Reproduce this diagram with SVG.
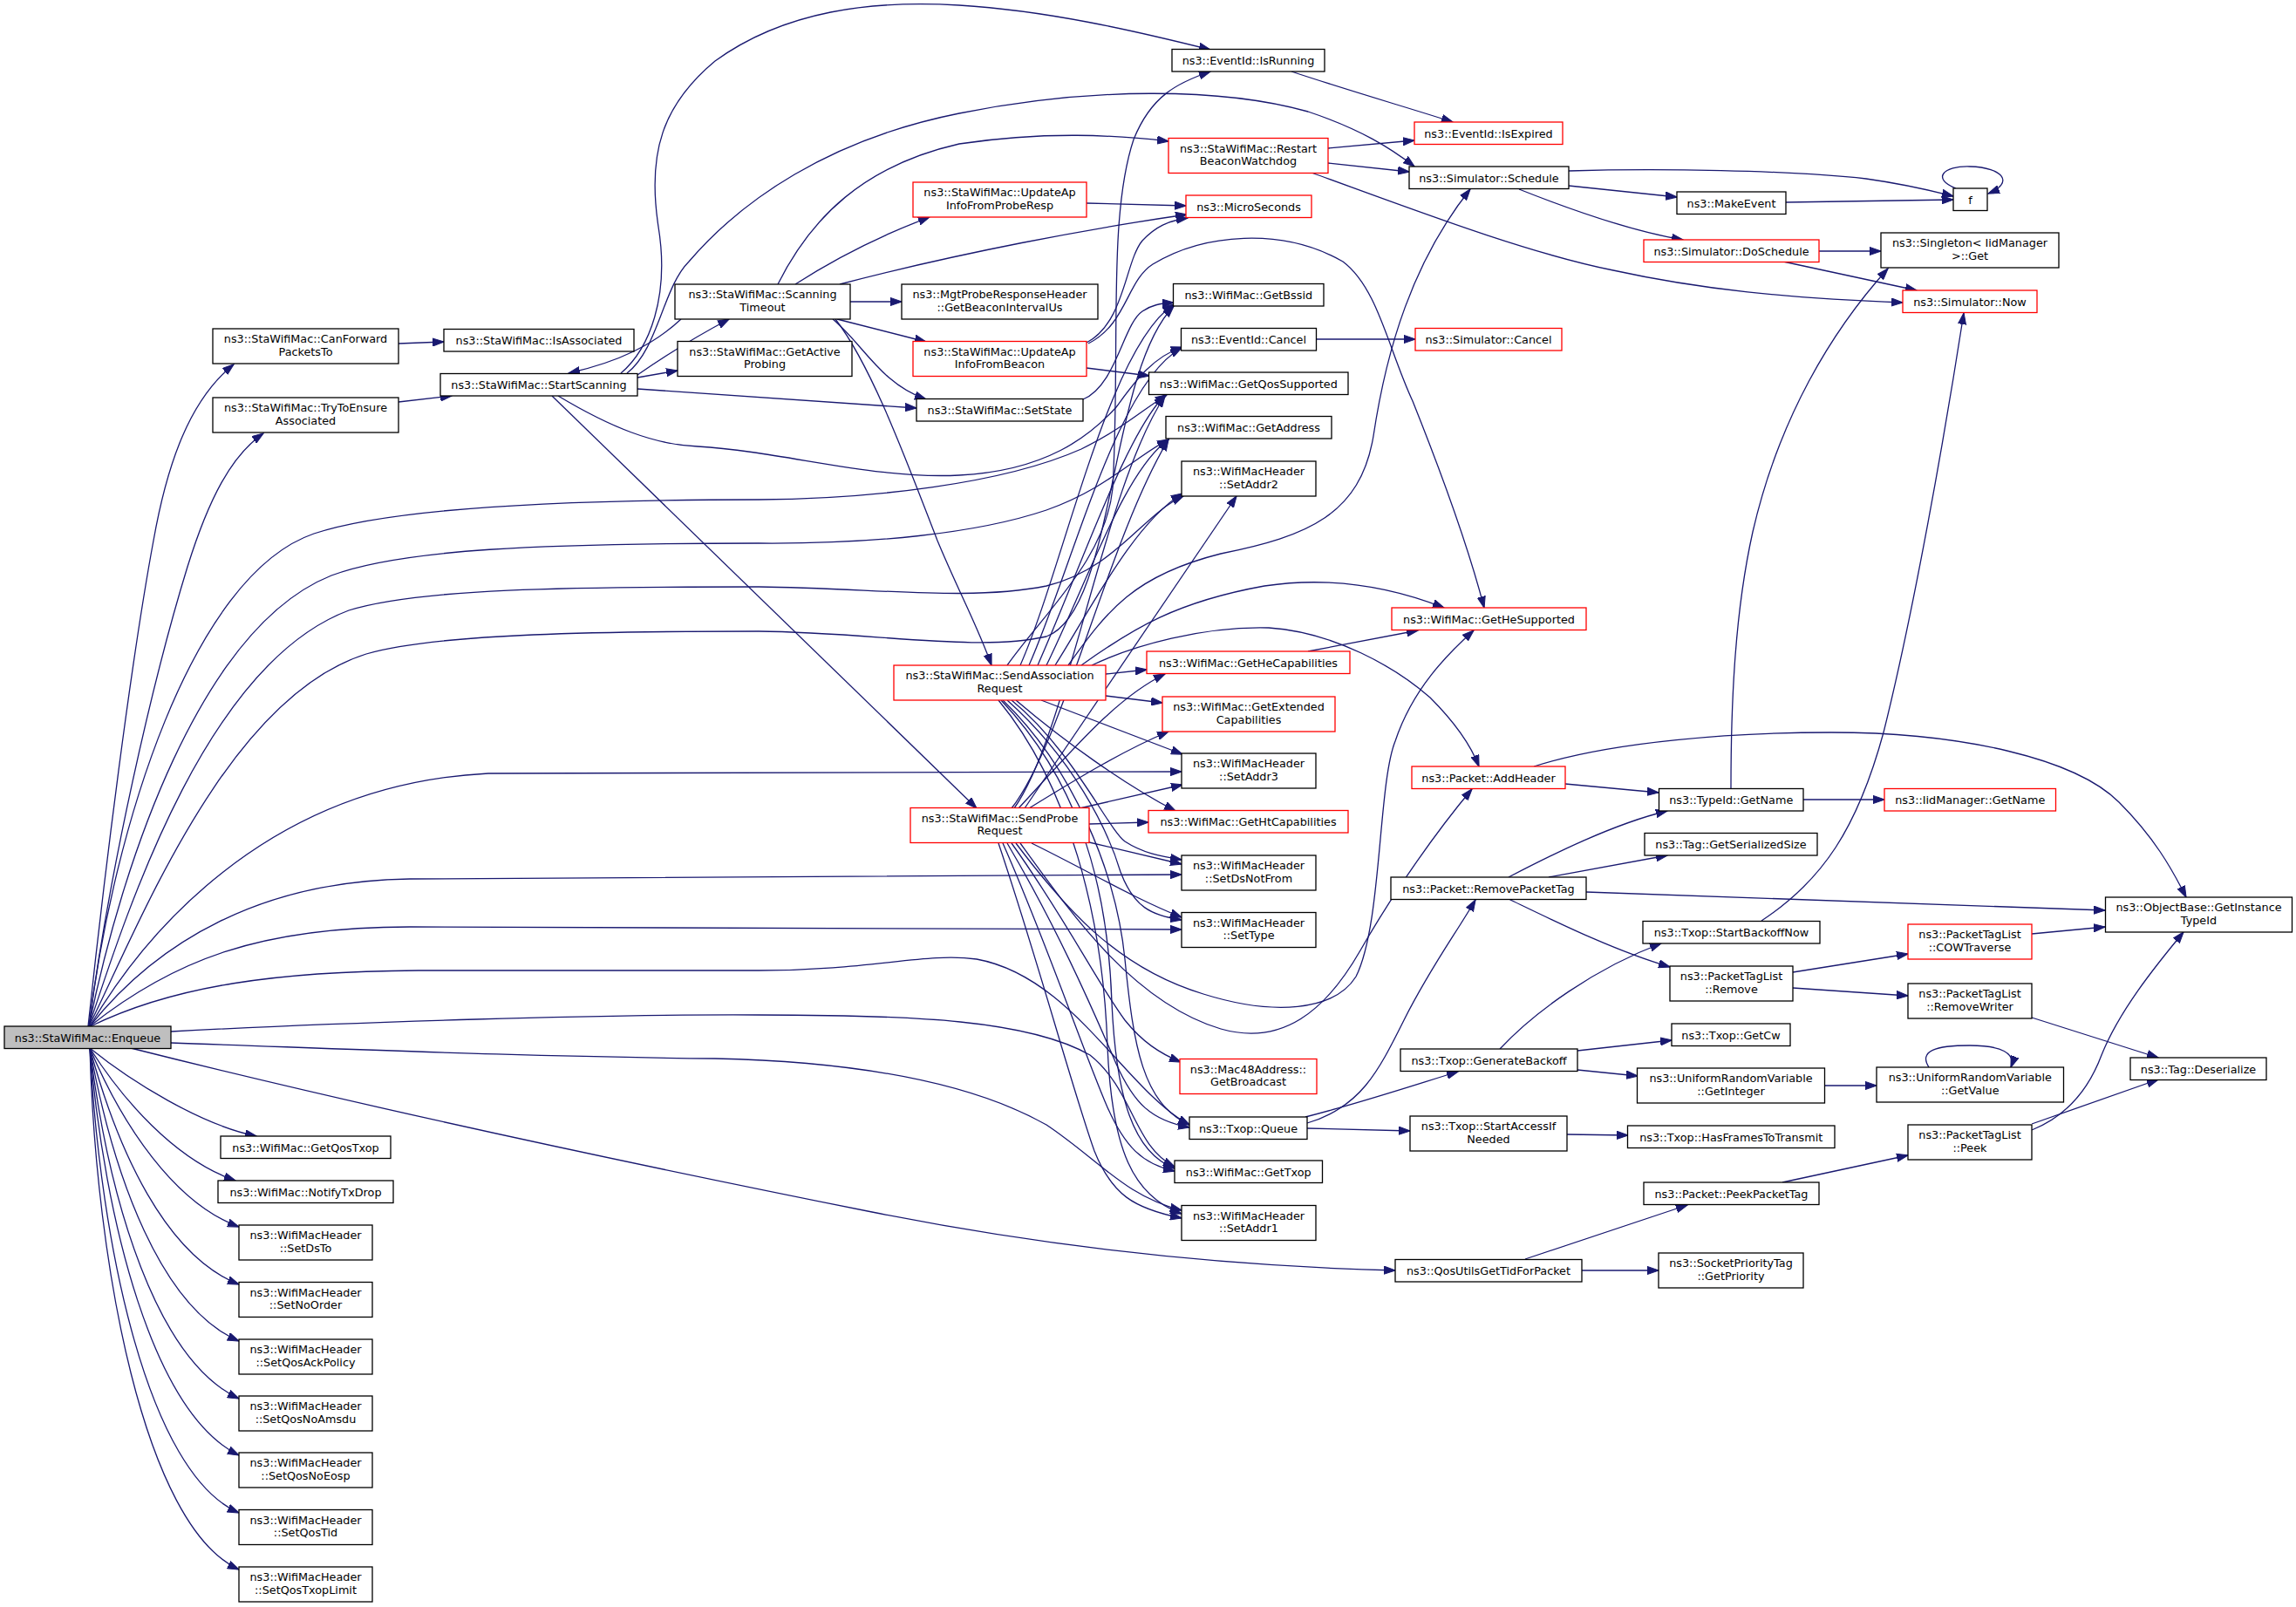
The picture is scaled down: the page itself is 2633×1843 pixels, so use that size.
<svg xmlns="http://www.w3.org/2000/svg" width="2633" height="1843" viewBox="0 0 2633 1843">
<style>
.e{fill:none;stroke:#191970;stroke-width:1.3;marker-end:url(#ah)}
.n rect{fill:#ffffff;stroke:#000000;stroke-width:1.3}
.n.r rect{stroke:#ff0000}
.n.g rect{fill:#bfbfbf}
.n text{font-family:"DejaVu Sans","Liberation Sans",sans-serif;font-size:12.8px;text-anchor:middle;fill:#000000}
</style>
<defs>
<marker id="ah" markerUnits="userSpaceOnUse" markerWidth="14" markerHeight="10" viewBox="0 0 14 10" refX="13" refY="5" orient="auto">
<path d="M0,0.4 L13.3,5 L0,9.6 z" fill="#191970" stroke="#191970" stroke-width="1"/>
</marker>
</defs>
<rect x="0" y="0" width="2633" height="1843" fill="#ffffff"/>
<g id="edges">
<path class="e" d="M101,1177 C120,1000 150,760 176,620 C192,530 218,458 268,418"/>
<path class="e" d="M102,1177 C125,1000 175,780 215,650 C240,570 266,522 302,497"/>
<path class="e" d="M103,1202 C150,1240 230,1290 294,1303"/>
<path class="e" d="M103,1202 C140,1260 200,1330 270,1354"/>
<path class="e" d="M103,1202 C140,1290 200,1380 274,1407"/>
<path class="e" d="M103,1202 C135,1320 190,1440 274,1473"/>
<path class="e" d="M103,1202 C130,1350 185,1500 274,1538"/>
<path class="e" d="M103,1202 C125,1380 180,1560 274,1604"/>
<path class="e" d="M103,1202 C120,1400 175,1620 274,1669"/>
<path class="e" d="M103,1202 C115,1430 170,1690 274,1735"/>
<path class="e" d="M103,1202 C110,1450 165,1750 274,1800"/>
<path class="e" d="M102,1177 C130,950 220,660 360,612 C450,582 650,573 870,573 C1000,572 1150,555 1240,515 C1290,490 1310,470 1338,453"/>
<path class="e" d="M102,1177 C140,990 230,720 380,660 C460,630 620,623 870,623 C1000,624 1120,612 1200,585 C1270,560 1300,525 1340,504"/>
<path class="e" d="M102,1177 C150,1030 240,760 400,700 C480,675 650,673 870,673 C1000,674 1110,690 1200,672 C1280,652 1310,590 1357,569"/>
<path class="e" d="M102,1177 C160,1060 260,800 420,750 C500,726 700,724 870,724 C1000,725 1120,748 1200,730 C1280,700 1270,430 1346,351"/>
<path class="e" d="M103,1177 C160,1080 300,900 560,887 L1355,885"/>
<path class="e" d="M103,1177 C180,1080 300,1010 470,1008 L1355,1003"/>
<path class="e" d="M103,1177 C200,1100 300,1063 470,1063 L1355,1066"/>
<path class="e" d="M104,1177 C200,1130 320,1114 480,1113 L870,1113 C1000,1113 1060,1092 1120,1100 C1230,1120 1290,1250 1364,1290"/>
<path class="e" d="M196,1183 C400,1172 700,1163 870,1164 C1050,1164 1180,1170 1250,1210 C1300,1250 1300,1315 1347,1338"/>
<path class="e" d="M196,1196 C400,1203 600,1212 820,1214 C1000,1218 1120,1245 1200,1290 C1260,1330 1290,1372 1355,1388"/>
<path class="e" d="M150,1202 C400,1265 700,1330 1000,1390 C1200,1430 1400,1452 1600,1457"/>
<path class="e" d="M457,461 L518,454"/>
<path class="e" d="M457,394 L509,392"/>
<path class="e" d="M712,428 C745,400 768,340 755,260 C742,175 760,120 820,70 C900,12 1000,0 1100,6 C1200,12 1300,35 1388,57"/>
<path class="e" d="M719,428 C755,400 760,330 790,300 C850,230 950,160 1100,130 C1250,100 1400,100 1500,128 C1560,148 1595,170 1622,191"/>
<path class="e" d="M731,430 C760,410 800,385 836,366"/>
<path class="e" d="M731,433 L777,425"/>
<path class="e" d="M731,446 L1051,468"/>
<path class="e" d="M640,454 C700,490 750,510 800,512 C900,518 1000,550 1100,545 C1200,540 1250,500 1280,467 C1300,440 1320,410 1356,398"/>
<path class="e" d="M633,454 L1120,927"/>
<path class="e" d="M781,366 C750,395 710,415 652,428"/>
<path class="e" d="M892,326 C930,250 990,190 1100,165 C1200,150 1280,155 1340,162"/>
<path class="e" d="M912,326 C960,295 1010,270 1066,249"/>
<path class="e" d="M963,326 C1100,290 1250,262 1361,246"/>
<path class="e" d="M975,346 L1034,346"/>
<path class="e" d="M960,366 L1062,392"/>
<path class="e" d="M955,366 C990,395 1010,440 1062,458"/>
<path class="e" d="M958,366 C1000,420 1040,530 1075,620 C1100,680 1122,720 1137,763"/>
<path class="e" d="M1246,233 L1360,236"/>
<path class="e" d="M1246,393 C1290,370 1290,300 1310,276 C1325,260 1340,253 1362,250"/>
<path class="e" d="M1246,422 L1318,431"/>
<path class="e" d="M1248,394 C1292,372 1292,322 1322,303 C1380,268 1470,260 1540,300 C1580,330 1592,400 1620,460 C1652,540 1682,620 1702,697"/>
<path class="e" d="M1242,458 C1280,442 1288,372 1310,357 C1320,350 1330,348 1346,347"/>
<path class="e" d="M1523,170 L1622,161"/>
<path class="e" d="M1523,187 L1616,197"/>
<path class="e" d="M1504,198 C1620,240 1750,290 1850,310 C1950,332 2050,342 2182,347"/>
<path class="e" d="M1481,82 C1550,105 1620,125 1666,140"/>
<path class="e" d="M1155,763 C1200,700 1268,640 1276,560 C1285,400 1270,250 1300,160 C1320,110 1350,95 1388,82"/>
<path class="e" d="M1225,763 C1270,700 1300,660 1400,635 C1500,615 1560,590 1575,500 C1590,400 1620,300 1686,217"/>
<path class="e" d="M1170,763 C1220,650 1270,400 1346,349"/>
<path class="e" d="M1180,763 C1230,650 1280,440 1355,399"/>
<path class="e" d="M1190,763 C1240,650 1290,500 1336,453"/>
<path class="e" d="M1200,763 C1250,660 1290,540 1340,504"/>
<path class="e" d="M1210,763 C1250,700 1300,600 1356,566"/>
<path class="e" d="M1240,763 C1300,720 1350,690 1450,672 C1530,660 1600,675 1656,697"/>
<path class="e" d="M1252,763 C1300,740 1380,718 1455,720 C1530,725 1600,765 1640,800 C1665,825 1685,850 1696,879"/>
<path class="e" d="M1268,773 L1315,768"/>
<path class="e" d="M1268,798 L1333,806"/>
<path class="e" d="M1194,803 L1356,865"/>
<path class="e" d="M1165,803 C1220,850 1290,900 1348,930"/>
<path class="e" d="M1160,803 C1230,860 1270,950 1290,965 C1310,978 1330,982 1355,986"/>
<path class="e" d="M1155,803 C1230,870 1270,950 1285,1000 C1300,1040 1320,1050 1355,1055"/>
<path class="e" d="M1150,803 C1230,880 1280,1000 1290,1100 C1300,1200 1310,1265 1364,1290"/>
<path class="e" d="M1148,803 C1230,890 1270,1000 1275,1150 C1280,1260 1300,1322 1347,1340"/>
<path class="e" d="M1145,803 C1225,900 1265,1050 1270,1200 C1275,1320 1300,1372 1355,1392"/>
<path class="e" d="M1175,927 L1418,569"/>
<path class="e" d="M1160,927 C1220,850 1270,620 1340,504"/>
<path class="e" d="M1163,927 C1225,840 1265,560 1336,454"/>
<path class="e" d="M1168,927 C1230,860 1280,800 1336,773"/>
<path class="e" d="M1180,927 C1240,890 1290,860 1340,839"/>
<path class="e" d="M1238,927 L1356,900"/>
<path class="e" d="M1249,945 L1317,943"/>
<path class="e" d="M1249,966 L1355,991"/>
<path class="e" d="M1183,967 C1250,1000 1300,1030 1355,1052"/>
<path class="e" d="M1160,967 C1220,1050 1260,1130 1290,1170 C1310,1195 1330,1208 1354,1218"/>
<path class="e" d="M1155,967 C1210,1060 1250,1150 1280,1220 C1300,1265 1320,1285 1364,1293"/>
<path class="e" d="M1150,967 C1200,1080 1240,1200 1270,1270 C1290,1315 1310,1335 1347,1343"/>
<path class="e" d="M1145,967 C1190,1100 1230,1250 1255,1320 C1275,1370 1300,1386 1355,1397"/>
<path class="e" d="M1165,967 C1220,1040 1280,1110 1380,1140 C1460,1165 1530,1160 1555,1120 C1585,1060 1580,900 1600,850 C1620,790 1660,750 1690,723"/>
<path class="e" d="M1170,967 C1230,1050 1300,1150 1400,1180 C1470,1200 1520,1160 1560,1090 C1600,1020 1650,950 1688,905"/>
<path class="e" d="M1500,747 L1626,723"/>
<path class="e" d="M1510,389 L1623,389"/>
<path class="e" d="M1799,196 C1900,193 2050,195 2140,205 C2190,212 2220,220 2240,225"/>
<path class="e" d="M1799,213 L1923,226"/>
<path class="e" d="M1742,217 C1800,240 1870,265 1930,275"/>
<path class="e" d="M2048,232 L2240,229"/>
<path class="e" d="M2243,216 C2215,205 2228,190 2259,191 C2298,192 2310,210 2280,222"/>
<path class="e" d="M2086,288 L2157,288"/>
<path class="e" d="M2045,300 L2198,333"/>
<path class="e" d="M2020,1056 C2090,1010 2130,950 2160,840 C2195,700 2230,500 2252,359"/>
<path class="e" d="M1985,904 C1985,800 1990,700 2010,610 C2040,480 2100,380 2165,308"/>
<path class="e" d="M1795,899 L1902,909"/>
<path class="e" d="M1759,879 C1850,850 1990,840 2100,840 C2250,840 2380,870 2430,920 C2470,960 2490,995 2507,1029"/>
<path class="e" d="M2068,917 L2161,917"/>
<path class="e" d="M1730,1006 C1780,980 1850,945 1912,930"/>
<path class="e" d="M1776,1006 L1912,981"/>
<path class="e" d="M1819,1023 C2000,1030 2200,1038 2414,1044"/>
<path class="e" d="M1730,1031 C1780,1055 1850,1090 1915,1109"/>
<path class="e" d="M2056,1115 L2188,1094"/>
<path class="e" d="M2056,1133 L2188,1142"/>
<path class="e" d="M2330,1071 L2414,1063"/>
<path class="e" d="M2330,1167 L2475,1213"/>
<path class="e" d="M2330,1289 L2475,1238"/>
<path class="e" d="M2330,1296 C2370,1280 2395,1250 2410,1210 C2430,1160 2470,1110 2504,1069"/>
<path class="e" d="M1497,1281 C1560,1265 1620,1245 1672,1229"/>
<path class="e" d="M1499,1294 L1617,1297"/>
<path class="e" d="M1499,1288 C1560,1270 1580,1230 1610,1170 C1640,1110 1670,1070 1692,1032"/>
<path class="e" d="M1720,1203 C1760,1160 1830,1110 1905,1082"/>
<path class="e" d="M1809,1205 L1917,1193"/>
<path class="e" d="M1809,1227 L1878,1234"/>
<path class="e" d="M2092,1245 L2152,1245"/>
<path class="e" d="M2212,1224 C2200,1205 2220,1199 2259,1199 C2295,1199 2312,1208 2306,1224"/>
<path class="e" d="M1797,1301 L1867,1302"/>
<path class="e" d="M1749,1444 L1935,1382"/>
<path class="e" d="M1814,1457 L1902,1457"/>
<path class="e" d="M2044,1356 L2188,1325"/>
</g>
<g id="node-enqueue" class="n g"><rect x="5" y="1177" width="191" height="25.5"/><text x="100.5" y="1194.5">ns3::StaWifiMac::Enqueue</text></g>
<g id="node-canforward" class="n"><rect x="244" y="377" width="213" height="40"/><text x="350.5" y="393">ns3::StaWifiMac::CanForward</text><text x="350.5" y="407.5">PacketsTo</text></g>
<g id="node-trytoensure" class="n"><rect x="244" y="456" width="213" height="40"/><text x="350.5" y="472">ns3::StaWifiMac::TryToEnsure</text><text x="350.5" y="486.5">Associated</text></g>
<g id="node-getqostxop" class="n"><rect x="253" y="1303" width="195" height="25.5"/><text x="350.5" y="1320.5">ns3::WifiMac::GetQosTxop</text></g>
<g id="node-notifytxdrop" class="n"><rect x="250" y="1354" width="201" height="25.5"/><text x="350.5" y="1371.5">ns3::WifiMac::NotifyTxDrop</text></g>
<g id="node-setdsto" class="n"><rect x="274" y="1405" width="153" height="40"/><text x="350.5" y="1421">ns3::WifiMacHeader</text><text x="350.5" y="1435.5">::SetDsTo</text></g>
<g id="node-setnoorder" class="n"><rect x="274" y="1470.5" width="153" height="40"/><text x="350.5" y="1486.5">ns3::WifiMacHeader</text><text x="350.5" y="1501">::SetNoOrder</text></g>
<g id="node-setqosackpolicy" class="n"><rect x="274" y="1536" width="153" height="40"/><text x="350.5" y="1552">ns3::WifiMacHeader</text><text x="350.5" y="1566.5">::SetQosAckPolicy</text></g>
<g id="node-setqosnoamsdu" class="n"><rect x="274" y="1601" width="153" height="40"/><text x="350.5" y="1617">ns3::WifiMacHeader</text><text x="350.5" y="1631.5">::SetQosNoAmsdu</text></g>
<g id="node-setqosnoeosp" class="n"><rect x="274" y="1666" width="153" height="40"/><text x="350.5" y="1682">ns3::WifiMacHeader</text><text x="350.5" y="1696.5">::SetQosNoEosp</text></g>
<g id="node-setqostid" class="n"><rect x="274" y="1731.5" width="153" height="40"/><text x="350.5" y="1747.5">ns3::WifiMacHeader</text><text x="350.5" y="1762">::SetQosTid</text></g>
<g id="node-setqostxoplimit" class="n"><rect x="274" y="1797" width="153" height="40"/><text x="350.5" y="1813">ns3::WifiMacHeader</text><text x="350.5" y="1827.5">::SetQosTxopLimit</text></g>
<g id="node-isassociated" class="n"><rect x="509" y="377.5" width="218" height="25.5"/><text x="618" y="395">ns3::StaWifiMac::IsAssociated</text></g>
<g id="node-startscanning" class="n"><rect x="505" y="428.5" width="226" height="25.5"/><text x="618" y="446">ns3::StaWifiMac::StartScanning</text></g>
<g id="node-scanningtimeout" class="n"><rect x="774" y="326" width="201" height="40"/><text x="874.5" y="342">ns3::StaWifiMac::Scanning</text><text x="874.5" y="356.5">Timeout</text></g>
<g id="node-getactiveprobing" class="n"><rect x="777" y="391.5" width="200" height="40"/><text x="877" y="407.5">ns3::StaWifiMac::GetActive</text><text x="877" y="422">Probing</text></g>
<g id="node-sendassociationrequest" class="n r"><rect x="1025" y="763" width="243" height="40"/><text x="1146.5" y="779">ns3::StaWifiMac::SendAssociation</text><text x="1146.5" y="793.5">Request</text></g>
<g id="node-sendproberequest" class="n r"><rect x="1044" y="926.5" width="205" height="40"/><text x="1146.5" y="942.5">ns3::StaWifiMac::SendProbe</text><text x="1146.5" y="957">Request</text></g>
<g id="node-getbeaconintervalus" class="n"><rect x="1034" y="326" width="225" height="40"/><text x="1146.5" y="342">ns3::MgtProbeResponseHeader</text><text x="1146.5" y="356.5">::GetBeaconIntervalUs</text></g>
<g id="node-updateapinfofromproberesp" class="n r"><rect x="1047" y="209" width="199" height="40"/><text x="1146.5" y="225">ns3::StaWifiMac::UpdateAp</text><text x="1146.5" y="239.5">InfoFromProbeResp</text></g>
<g id="node-updateapinfofrombeacon" class="n r"><rect x="1047" y="391.5" width="199" height="40"/><text x="1146.5" y="407.5">ns3::StaWifiMac::UpdateAp</text><text x="1146.5" y="422">InfoFromBeacon</text></g>
<g id="node-setstate" class="n"><rect x="1051" y="457.5" width="191" height="25.5"/><text x="1146.5" y="475">ns3::StaWifiMac::SetState</text></g>
<g id="node-isrunning" class="n"><rect x="1344" y="56.5" width="175" height="25.5"/><text x="1431.5" y="74">ns3::EventId::IsRunning</text></g>
<g id="node-restartbeaconwatchdog" class="n r"><rect x="1340" y="158.5" width="183" height="40"/><text x="1431.5" y="174.5">ns3::StaWifiMac::Restart</text><text x="1431.5" y="189">BeaconWatchdog</text></g>
<g id="node-microseconds" class="n r"><rect x="1360" y="224" width="144" height="25.5"/><text x="1432" y="241.5">ns3::MicroSeconds</text></g>
<g id="node-getbssid" class="n"><rect x="1345.5" y="325.5" width="172.5" height="25.5"/><text x="1431.75" y="343">ns3::WifiMac::GetBssid</text></g>
<g id="node-eventidcancel" class="n"><rect x="1354.5" y="376.5" width="155" height="25.5"/><text x="1432" y="394">ns3::EventId::Cancel</text></g>
<g id="node-getqossupported" class="n"><rect x="1317.5" y="427" width="228.5" height="25.5"/><text x="1431.75" y="444.5">ns3::WifiMac::GetQosSupported</text></g>
<g id="node-getaddress" class="n"><rect x="1337" y="477.5" width="190" height="25.5"/><text x="1432" y="495">ns3::WifiMac::GetAddress</text></g>
<g id="node-setaddr2" class="n"><rect x="1355" y="529" width="154" height="40"/><text x="1432" y="545">ns3::WifiMacHeader</text><text x="1432" y="559.5">::SetAddr2</text></g>
<g id="node-gethecapabilities" class="n r"><rect x="1315" y="747" width="233" height="25.5"/><text x="1431.5" y="764.5">ns3::WifiMac::GetHeCapabilities</text></g>
<g id="node-getextendedcapabilities" class="n r"><rect x="1333" y="799" width="198" height="40"/><text x="1432" y="815">ns3::WifiMac::GetExtended</text><text x="1432" y="829.5">Capabilities</text></g>
<g id="node-setaddr3" class="n"><rect x="1355" y="864" width="154" height="40"/><text x="1432" y="880">ns3::WifiMacHeader</text><text x="1432" y="894.5">::SetAddr3</text></g>
<g id="node-gethtcapabilities" class="n r"><rect x="1317" y="929.5" width="229" height="25.5"/><text x="1431.5" y="947">ns3::WifiMac::GetHtCapabilities</text></g>
<g id="node-setdsnotfrom" class="n"><rect x="1355" y="981" width="154" height="40"/><text x="1432" y="997">ns3::WifiMacHeader</text><text x="1432" y="1011.5">::SetDsNotFrom</text></g>
<g id="node-settype" class="n"><rect x="1355" y="1046.5" width="154" height="40"/><text x="1432" y="1062.5">ns3::WifiMacHeader</text><text x="1432" y="1077">::SetType</text></g>
<g id="node-getbroadcast" class="n r"><rect x="1353" y="1214.5" width="157" height="40"/><text x="1431.5" y="1230.5">ns3::Mac48Address::</text><text x="1431.5" y="1245">GetBroadcast</text></g>
<g id="node-txopqueue" class="n"><rect x="1364" y="1281" width="135" height="25.5"/><text x="1431.5" y="1298.5">ns3::Txop::Queue</text></g>
<g id="node-gettxop" class="n"><rect x="1347" y="1331" width="169.5" height="25.5"/><text x="1431.75" y="1348.5">ns3::WifiMac::GetTxop</text></g>
<g id="node-setaddr1" class="n"><rect x="1355" y="1382.5" width="154" height="40"/><text x="1432" y="1398.5">ns3::WifiMacHeader</text><text x="1432" y="1413">::SetAddr1</text></g>
<g id="node-isexpired" class="n r"><rect x="1622" y="140" width="170" height="25.5"/><text x="1707" y="157.5">ns3::EventId::IsExpired</text></g>
<g id="node-schedule" class="n"><rect x="1616" y="191" width="183" height="25.5"/><text x="1707.5" y="208.5">ns3::Simulator::Schedule</text></g>
<g id="node-simulatorcancel" class="n r"><rect x="1623" y="376.5" width="168" height="25.5"/><text x="1707" y="394">ns3::Simulator::Cancel</text></g>
<g id="node-gethesupported" class="n r"><rect x="1596" y="697" width="223" height="25.5"/><text x="1707.5" y="714.5">ns3::WifiMac::GetHeSupported</text></g>
<g id="node-addheader" class="n r"><rect x="1619" y="879" width="176" height="25.5"/><text x="1707" y="896.5">ns3::Packet::AddHeader</text></g>
<g id="node-removepackettag" class="n"><rect x="1595" y="1006" width="224" height="25.5"/><text x="1707" y="1023.5">ns3::Packet::RemovePacketTag</text></g>
<g id="node-generatebackoff" class="n"><rect x="1606" y="1203" width="203" height="25.5"/><text x="1707.5" y="1220.5">ns3::Txop::GenerateBackoff</text></g>
<g id="node-startaccessifneeded" class="n"><rect x="1617" y="1280" width="180" height="40"/><text x="1707" y="1296">ns3::Txop::StartAccessIf</text><text x="1707" y="1310.5">Needed</text></g>
<g id="node-qosutilsgettidforpacket" class="n"><rect x="1600" y="1444.5" width="214" height="25.5"/><text x="1707" y="1462">ns3::QosUtilsGetTidForPacket</text></g>
<g id="node-makeevent" class="n"><rect x="1923" y="220" width="125" height="25.5"/><text x="1985.5" y="237.5">ns3::MakeEvent</text></g>
<g id="node-doschedule" class="n r"><rect x="1885" y="275" width="201" height="25.5"/><text x="1985.5" y="292.5">ns3::Simulator::DoSchedule</text></g>
<g id="node-typeidgetname" class="n"><rect x="1902.5" y="904.5" width="165.5" height="25.5"/><text x="1985.25" y="922">ns3::TypeId::GetName</text></g>
<g id="node-getserializedsize" class="n"><rect x="1886" y="955.5" width="198" height="25.5"/><text x="1985" y="973">ns3::Tag::GetSerializedSize</text></g>
<g id="node-startbackoffnow" class="n"><rect x="1884" y="1056.5" width="203" height="25.5"/><text x="1985.5" y="1074">ns3::Txop::StartBackoffNow</text></g>
<g id="node-packettaglistremove" class="n"><rect x="1915" y="1108" width="141" height="40"/><text x="1985.5" y="1124">ns3::PacketTagList</text><text x="1985.5" y="1138.5">::Remove</text></g>
<g id="node-getcw" class="n"><rect x="1917" y="1174" width="136" height="25.5"/><text x="1985" y="1191.5">ns3::Txop::GetCw</text></g>
<g id="node-getinteger" class="n"><rect x="1877.5" y="1225" width="215" height="40"/><text x="1985" y="1241">ns3::UniformRandomVariable</text><text x="1985" y="1255.5">::GetInteger</text></g>
<g id="node-hasframestotransmit" class="n"><rect x="1866.5" y="1291" width="237.5" height="25.5"/><text x="1985.25" y="1308.5">ns3::Txop::HasFramesToTransmit</text></g>
<g id="node-peekpackettag" class="n"><rect x="1885" y="1356" width="201" height="25.5"/><text x="1985.5" y="1373.5">ns3::Packet::PeekPacketTag</text></g>
<g id="node-getpriority" class="n"><rect x="1902" y="1437" width="166" height="40"/><text x="1985" y="1453">ns3::SocketPriorityTag</text><text x="1985" y="1467.5">::GetPriority</text></g>
<g id="node-f" class="n"><rect x="2240" y="216" width="39" height="25.5"/><text x="2259.5" y="233.5">f</text></g>
<g id="node-singletonget" class="n"><rect x="2157" y="267" width="204" height="40"/><text x="2259" y="283">ns3::Singleton&lt; IidManager</text><text x="2259" y="297.5">&gt;::Get</text></g>
<g id="node-simulatornow" class="n r"><rect x="2182" y="333" width="154" height="25.5"/><text x="2259" y="350.5">ns3::Simulator::Now</text></g>
<g id="node-iidmanagergetname" class="n r"><rect x="2161" y="904.5" width="196.5" height="25.5"/><text x="2259.25" y="922">ns3::IidManager::GetName</text></g>
<g id="node-cowtraverse" class="n r"><rect x="2188" y="1060" width="142" height="40"/><text x="2259" y="1076">ns3::PacketTagList</text><text x="2259" y="1090.5">::COWTraverse</text></g>
<g id="node-removewriter" class="n"><rect x="2188" y="1128" width="142" height="40"/><text x="2259" y="1144">ns3::PacketTagList</text><text x="2259" y="1158.5">::RemoveWriter</text></g>
<g id="node-getvalue" class="n"><rect x="2152" y="1224" width="214.5" height="40"/><text x="2259.25" y="1240">ns3::UniformRandomVariable</text><text x="2259.25" y="1254.5">::GetValue</text></g>
<g id="node-packettaglistpeek" class="n"><rect x="2188" y="1290" width="142" height="40"/><text x="2259" y="1306">ns3::PacketTagList</text><text x="2259" y="1320.5">::Peek</text></g>
<g id="node-getinstancetypeid" class="n"><rect x="2414.5" y="1029" width="214" height="40"/><text x="2521.5" y="1045">ns3::ObjectBase::GetInstance</text><text x="2521.5" y="1059.5">TypeId</text></g>
<g id="node-tagdeserialize" class="n"><rect x="2443" y="1213" width="156" height="25.5"/><text x="2521" y="1230.5">ns3::Tag::Deserialize</text></g>
</svg>
